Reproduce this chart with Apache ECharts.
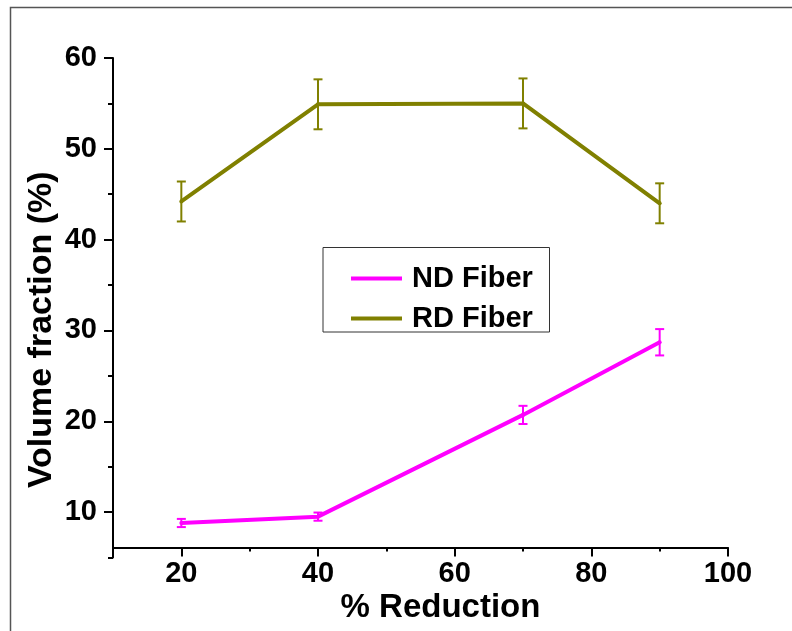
<!DOCTYPE html>
<html>
<head>
<meta charset="utf-8">
<script src="https://cdn.jsdelivr.net/npm/echarts@6/dist/echarts.min.js"></script>
<style>
  html, body { margin: 0; padding: 0; background: #fff; }
  #chart { width: 792px; height: 631px; }
</style>
</head>
<body>
<div id="chart"></div>
<script>
// 数据
var reduction = [20, 40, 70, 90];
var ndFiber = [8.8, 9.5, 20.7, 28.7];
var ndError = [0.45, 0.45, 1.0, 1.45];
var rdFiber = [44.2, 54.9, 55.0, 44.0];
var rdError = [2.2, 2.75, 2.75, 2.2];

var xMajor = [20, 40, 60, 80, 100];
var xMinor = [30, 50, 70, 90];
var yMajor = [10, 20, 30, 40, 50, 60];
var yMinor = [5, 15, 25, 35, 45, 55];

var ND_COLOR = '#ff00ff';
var RD_COLOR = '#808000';
var FONT = 'Liberation Sans, Arial, sans-serif';

function toPairs(xs, ys) {
    return xs.map(function (x, i) { return [x, ys[i]]; });
}

function toBars(xs, ys, errs) {
    return xs.map(function (x, i) { return [x, ys[i] - errs[i], ys[i] + errs[i]]; });
}

// 误差棒
function errorBar(color) {
    return function (params, api) {
        var x = api.value(0);
        var top = api.coord([x, api.value(2)]);
        var bot = api.coord([x, api.value(1)]);
        var w = 4.5;
        var st = { stroke: color, lineWidth: 2 };
        return {
            type: 'group',
            children: [
                { type: 'line', shape: { x1: top[0], y1: top[1], x2: bot[0], y2: bot[1] }, style: st },
                { type: 'line', shape: { x1: top[0] - w, y1: top[1], x2: top[0] + w, y2: top[1] }, style: st },
                { type: 'line', shape: { x1: bot[0] - w, y1: bot[1], x2: bot[0] + w, y2: bot[1] }, style: st }
            ]
        };
    };
}

var myecharts = echarts.init(document.getElementById('chart'));

var option = {
    animation: false,
    backgroundColor: '#fff',
    grid: { left: 113, right: 64, top: 58, bottom: 73.5, containLabel: false, outerBoundsMode: 'none' },
    graphic: [
        {
            type: 'polyline',
            shape: { points: [[10.5, 631], [10.5, 7.5], [792, 7.5]] },
            style: { stroke: '#555', lineWidth: 1.5, fill: null },
            silent: true
        },
        {
            type: 'rect',
            shape: { x: 323, y: 247.5, width: 226.5, height: 84.5 },
            style: { stroke: '#333', lineWidth: 1, fill: '#fff' },
            z: 5,
            silent: true
        }
    ],
    legend: {
        data: ['ND Fiber', 'RD Fiber'],
        orient: 'vertical',
        left: 349,
        top: 264,
        padding: 0,
        itemWidth: 51,
        itemHeight: 4,
        itemGap: 11,
        z: 6,
        lineStyle: { width: 4 },
        textStyle: {
            fontFamily: FONT, fontWeight: 'bold', fontSize: 29, color: '#000',
            lineHeight: 28, padding: [0, 0, 0, 5]
        }
    },
    xAxis: [
        {
            type: 'value',
            min: 10, max: 100,
            offset: -10,
            name: '% Reduction',
            nameLocation: 'middle',
            nameGap: 44,
            nameMoveOverlap: false,
            nameTextStyle: { fontFamily: FONT, fontWeight: 'bold', fontSize: 33, color: '#000', padding: [0, 0, 0, 40] },
            axisLine: { lineStyle: { color: '#000', width: 2 } },
            axisTick: { customValues: xMajor, length: 9, lineStyle: { color: '#000', width: 2 } },
            axisLabel: { customValues: xMajor, margin: 12, fontFamily: FONT, fontWeight: 'bold', fontSize: 29, color: '#000' },
            splitLine: { show: false }
        },
        {
            type: 'value',
            min: 10, max: 100,
            offset: -10,
            position: 'bottom',
            axisLine: { show: false },
            axisTick: { customValues: xMinor, length: 4, lineStyle: { color: '#000', width: 2 } },
            axisLabel: { show: false },
            splitLine: { show: false }
        }
    ],
    yAxis: [
        {
            type: 'value',
            min: 5, max: 60,
            name: 'Volume fraction (%)',
            nameLocation: 'middle',
            nameGap: 54,
            nameMoveOverlap: false,
            nameTextStyle: { fontFamily: FONT, fontWeight: 'bold', fontSize: 34, color: '#000', padding: [0, 44, 0, 0] },
            axisLine: { show: true, lineStyle: { color: '#000', width: 2 } },
            axisTick: { customValues: yMajor, length: 9, lineStyle: { color: '#000', width: 2 } },
            axisLabel: { customValues: yMajor, margin: 16, fontFamily: FONT, fontWeight: 'bold', fontSize: 29, color: '#000' },
            splitLine: { show: false }
        },
        {
            type: 'value',
            min: 5, max: 60,
            position: 'left',
            axisLine: { show: false },
            axisTick: { show: true, customValues: yMinor, length: 5, lineStyle: { color: '#000', width: 2 } },
            axisLabel: { show: false },
            splitLine: { show: false }
        }
    ],
    series: [
        {
            name: 'ND Fiber',
            type: 'line',
            data: toPairs(reduction, ndFiber),
            color: ND_COLOR,
            lineStyle: { width: 4, color: ND_COLOR },
            symbol: 'circle',
            symbolSize: 4,
            itemStyle: { color: ND_COLOR }
        },
        {
            name: 'RD Fiber',
            type: 'line',
            data: toPairs(reduction, rdFiber),
            color: RD_COLOR,
            lineStyle: { width: 4, color: RD_COLOR },
            symbol: 'circle',
            symbolSize: 4,
            itemStyle: { color: RD_COLOR }
        },
        {
            name: 'ND Error',
            type: 'custom',
            renderItem: errorBar(ND_COLOR),
            encode: { x: 0, y: [1, 2] },
            data: toBars(reduction, ndFiber, ndError),
            z: 3
        },
        {
            name: 'RD Error',
            type: 'custom',
            renderItem: errorBar(RD_COLOR),
            encode: { x: 0, y: [1, 2] },
            data: toBars(reduction, rdFiber, rdError),
            z: 3
        }
    ]
};

myecharts.setOption(option);
</script>
</body>
</html>
